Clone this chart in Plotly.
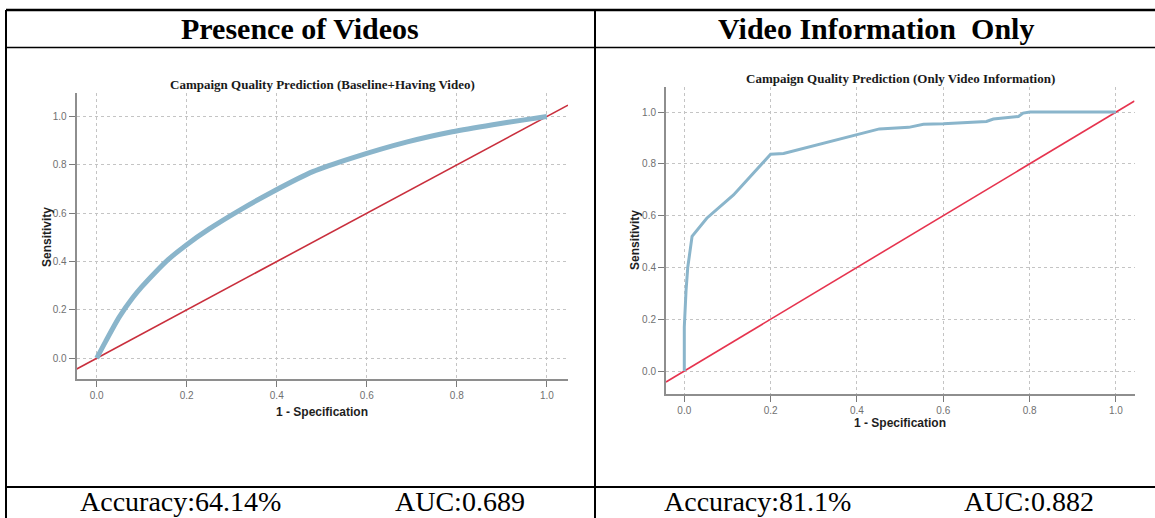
import plotly.graph_objects as go

W, H = 1155, 518

# ROC curve: baseline + having video
base_fpr = [0, 0.02, 0.05, 0.08, 0.1, 0.13, 0.16, 0.2, 0.25, 0.32, 0.39,
            0.48, 0.57, 0.69, 0.79, 0.88, 0.95, 1.0]
base_tpr = [0, 0.07, 0.17, 0.25, 0.295, 0.355, 0.41, 0.47, 0.535, 0.615, 0.688,
            0.772, 0.83, 0.895, 0.937, 0.966, 0.986, 1.0]

# ROC curve: only video information
video_fpr = [0, 0, 0.004, 0.008, 0.018, 0.052, 0.114, 0.2, 0.23, 0.4, 0.452, 0.52,
             0.554, 0.6, 0.70, 0.716, 0.774, 0.785, 0.801, 1.0]
video_tpr = [0, 0.17, 0.31, 0.40, 0.52, 0.59, 0.68, 0.837, 0.84, 0.913, 0.935, 0.941,
             0.953, 0.955, 0.964, 0.973, 0.983, 0.996, 1.0, 1.0]

tick_vals = [0, 0.2, 0.4, 0.6, 0.8, 1.0]
tick_text = ["0.0", "0.2", "0.4", "0.6", "0.8", "1.0"]

left_x_range = [-0.0444, 1.047]
left_y_range = [-0.087, 1.096]
right_x_range = [-0.0424, 1.043]
right_y_range = [-0.0888, 1.098]

headers = ["Presence of Videos", "Video Information  Only"]
chart_titles = ["Campaign Quality Prediction (Baseline+Having Video)",
                "Campaign Quality Prediction (Only Video Information)"]
accuracies = ["Accuracy:64.14%", "Accuracy:81.1%"]
aucs = ["AUC:0.689", "AUC:0.882"]


def fx(p):
    return p / W


def fy(p):
    return 1 - p / H


CURVE = "#8ab5cb"
SERIF = "Liberation Serif"
SANS = "Liberation Sans"

fig = go.Figure()

fig.add_trace(go.Scatter(x=left_x_range, y=left_x_range, mode="lines",
                         line=dict(color="#c92f3d", width=1.6),
                         xaxis="x", yaxis="y", hoverinfo="skip"))
fig.add_trace(go.Scatter(x=base_fpr, y=base_tpr, mode="lines",
                         line=dict(color=CURVE, width=5, shape="spline", smoothing=0.6),
                         xaxis="x", yaxis="y"))

fig.add_trace(go.Scatter(x=right_x_range, y=right_x_range, mode="lines",
                         line=dict(color="#e6344f", width=1.6),
                         xaxis="x2", yaxis="y2", hoverinfo="skip"))
fig.add_trace(go.Scatter(x=video_fpr, y=video_tpr, mode="lines",
                         line=dict(color=CURVE, width=3),
                         xaxis="x2", yaxis="y2"))

axis_common = dict(
    tickvals=tick_vals, ticktext=tick_text,
    showgrid=True, gridcolor="#c4c4c4", griddash="dot", gridwidth=1,
    showline=True, linecolor="#8e8e8e", linewidth=2,
    ticks="outside", ticklen=6, tickcolor="#7a7a7a", tickwidth=1,
    tickfont=dict(family=SANS, size=10, color="#707070"),
    zeroline=False, fixedrange=True,
)

fig.update_layout(
    width=W, height=H,
    margin=dict(l=0, r=0, t=0, b=0),
    paper_bgcolor="white", plot_bgcolor="white",
    showlegend=False,
    xaxis=dict(domain=[fx(76.7), fx(568)], range=left_x_range, anchor="y", **axis_common),
    yaxis=dict(domain=[fy(379.3), fy(93.3)], range=left_y_range, anchor="x", **axis_common),
    xaxis2=dict(domain=[fx(666), fx(1134.5)], range=right_x_range, anchor="y2", **axis_common),
    yaxis2=dict(domain=[fy(394), fy(86.7)], range=right_y_range, anchor="x2", **axis_common),
)

# table rules
rules = [
    (6, 10, W, 10, 2.5),
    (6, 47.5, W, 47.5, 1.6),
    (6, 487, W, 487, 2),
    (6, 10, 6, H, 2),
    (595, 10, 595, H, 2),
]
for x0, y0, x1, y1, w in rules:
    fig.add_shape(type="line", xref="paper", yref="paper",
                  x0=fx(x0), y0=fy(y0), x1=fx(x1), y1=fy(y1),
                  line=dict(color="black", width=w))


def note(text, x, y, size, family, bold=False, color="black", angle=0, xanchor="center"):
    fig.add_annotation(
        text=f"<b>{text}</b>" if bold else text,
        x=fx(x), y=fy(y), xref="paper", yref="paper",
        xanchor=xanchor, yanchor="middle", showarrow=False, textangle=angle,
        font=dict(family=family, size=size, color=color),
    )


# column headers
note(headers[0], 300, 28, 30, SERIF, bold=True)
note(headers[1], 876, 28, 30, SERIF, bold=True)

# chart titles
note(chart_titles[0], 322, 84, 13, SERIF, bold=True, color="#1a1a1a")
note(chart_titles[1], 900, 78, 13, SERIF, bold=True, color="#1a1a1a")

# axis titles
note("1 - Specification", 322, 412, 12, SANS, bold=True, color="#1e1e1e")
note("1 - Specification", 900, 423, 12, SANS, bold=True, color="#1e1e1e")
note("Sensitivity", 47, 237, 12, SANS, bold=True, color="#1e1e1e", angle=-90)
note("Sensitivity", 635, 240, 12, SANS, bold=True, color="#1e1e1e", angle=-90)

# metrics row
note(accuracies[0], 180, 501, 28, SERIF)
note(aucs[0], 460, 501, 28, SERIF)
note(accuracies[1], 757, 501, 28, SERIF)
note(aucs[1], 1029, 501, 28, SERIF)

fig.write_html("out.html")
